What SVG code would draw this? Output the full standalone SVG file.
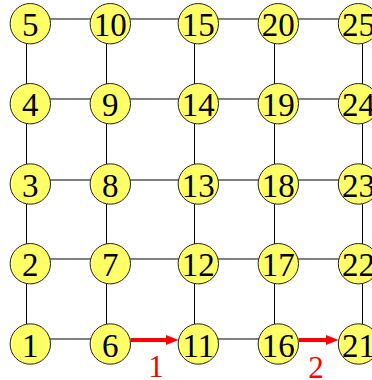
<svg xmlns="http://www.w3.org/2000/svg" width="372" height="380" viewBox="0 0 372 380">
<defs>
<style>
.e{stroke:#000;stroke-width:1;fill:none}
.n circle{fill:#ffff66;stroke:#222;stroke-width:1}
.n text{font-family:"Liberation Serif","Times New Roman",serif;font-size:33px;text-anchor:middle;fill:#000}
.a{stroke:#ff0000;stroke-width:4;fill:none}
.l{font-family:"Liberation Serif","Times New Roman",serif;font-size:31px;text-anchor:middle;fill:#ff0000}
</style>
<marker id="ah" markerUnits="userSpaceOnUse" markerWidth="13" markerHeight="11" refX="1" refY="5.5" orient="auto">
<path d="M0,0.5 L12.5,5.5 L0,10.5 z" fill="#ff0000"/>
</marker>
</defs>
<g id="connectors">
<line class="e" x1="26.5" y1="19" x2="26.5" y2="339"/>
<line class="e" x1="106.5" y1="19" x2="106.5" y2="339"/>
<line class="e" x1="194.5" y1="19" x2="194.5" y2="339"/>
<line class="e" x1="274.5" y1="19" x2="274.5" y2="339"/>
<line class="e" x1="362.5" y1="19" x2="362.5" y2="339"/>
<line class="e" x1="26.5" y1="19" x2="362.5" y2="19"/>
<line class="e" x1="26.5" y1="99" x2="362.5" y2="99"/>
<line class="e" x1="26.5" y1="180" x2="362.5" y2="180"/>
<line class="e" x1="26.5" y1="259" x2="362.5" y2="259"/>
<line class="e" x1="26.5" y1="339" x2="106.5" y2="339"/>
<line class="e" x1="194.5" y1="339" x2="274.5" y2="339"/>
</g>
<g id="n5" class="n"><circle cx="30.3" cy="23.7" r="20.2"/><text x="30.3" y="36.3">5</text></g>
<g id="n4" class="n"><circle cx="30.3" cy="103.7" r="20.2"/><text x="30.3" y="116.3">4</text></g>
<g id="n3" class="n"><circle cx="30.3" cy="184" r="20.2"/><text x="30.3" y="196.6">3</text></g>
<g id="n2" class="n"><circle cx="30.3" cy="263.7" r="20.2"/><text x="30.3" y="276.3">2</text></g>
<g id="n1" class="n"><circle cx="30.3" cy="344" r="20.2"/><text x="30.3" y="356.6">1</text></g>
<g id="n10" class="n"><circle cx="110.3" cy="23.7" r="20.2"/><text x="110.3" y="36.3">10</text></g>
<g id="n9" class="n"><circle cx="110.3" cy="103.7" r="20.2"/><text x="110.3" y="116.3">9</text></g>
<g id="n8" class="n"><circle cx="110.3" cy="184" r="20.2"/><text x="110.3" y="196.6">8</text></g>
<g id="n7" class="n"><circle cx="110.3" cy="263.7" r="20.2"/><text x="110.3" y="276.3">7</text></g>
<g id="n6" class="n"><circle cx="110.3" cy="344" r="20.2"/><text x="110.3" y="356.6">6</text></g>
<g id="n15" class="n"><circle cx="198.3" cy="23.7" r="20.2"/><text x="198.3" y="36.3">15</text></g>
<g id="n14" class="n"><circle cx="198.3" cy="103.7" r="20.2"/><text x="198.3" y="116.3">14</text></g>
<g id="n13" class="n"><circle cx="198.3" cy="184" r="20.2"/><text x="198.3" y="196.6">13</text></g>
<g id="n12" class="n"><circle cx="198.3" cy="263.7" r="20.2"/><text x="198.3" y="276.3">12</text></g>
<g id="n11" class="n"><circle cx="198.3" cy="344" r="20.2"/><text x="198.3" y="356.6">11</text></g>
<g id="n20" class="n"><circle cx="278.3" cy="23.7" r="20.2"/><text x="278.3" y="36.3">20</text></g>
<g id="n19" class="n"><circle cx="278.3" cy="103.7" r="20.2"/><text x="278.3" y="116.3">19</text></g>
<g id="n18" class="n"><circle cx="278.3" cy="184" r="20.2"/><text x="278.3" y="196.6">18</text></g>
<g id="n17" class="n"><circle cx="278.3" cy="263.7" r="20.2"/><text x="278.3" y="276.3">17</text></g>
<g id="n16" class="n"><circle cx="278.3" cy="344" r="20.2"/><text x="278.3" y="356.6">16</text></g>
<g id="n25" class="n"><circle cx="358.5" cy="23.7" r="20.2"/><text x="358.5" y="36.3">25</text></g>
<g id="n24" class="n"><circle cx="358.5" cy="103.7" r="20.2"/><text x="358.5" y="116.3">24</text></g>
<g id="n23" class="n"><circle cx="358.5" cy="184" r="20.2"/><text x="358.5" y="196.6">23</text></g>
<g id="n22" class="n"><circle cx="358.5" cy="263.7" r="20.2"/><text x="358.5" y="276.3">22</text></g>
<g id="n21" class="n"><circle cx="358.5" cy="344" r="20.2"/><text x="358.5" y="356.6">21</text></g>
<g id="arrows">
<line class="a" x1="130.5" y1="340" x2="167" y2="340" marker-end="url(#ah)"/>
<line class="a" x1="298.5" y1="340" x2="327" y2="340" marker-end="url(#ah)"/>
<text class="l" x="156" y="377">1</text>
<text class="l" x="316" y="378">2</text>
</g>
</svg>
